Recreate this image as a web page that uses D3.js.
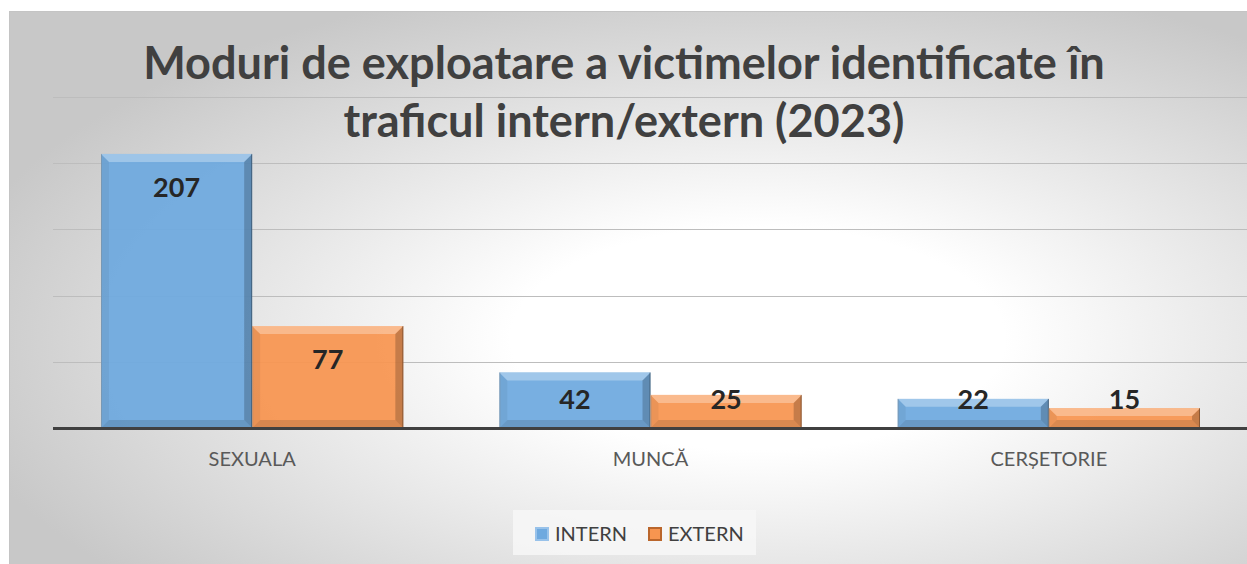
<!DOCTYPE html>
<html>
<head>
<meta charset="utf-8">
<script src="https://cdn.jsdelivr.net/npm/d3@7"></script>
<style>
  body { margin: 0; background: #fff; }
  svg { display: block; }
</style>
</head>
<body>
<svg id="chart" width="1247" height="564"></svg>
<script>
// chart values
var categories = ["SEXUALA", "MUNCĂ", "CERȘETORIE"];
var seriesNames = ["INTERN", "EXTERN"];
var intern = [207, 42, 22];
var extern = [77, 25, 15];
var yTicks = [0, 50, 100, 150, 200, 250];
var titleLines = ["Moduri de exploatare a victimelor identificate în", "traficul intern/extern (2023)"];

var colors = { INTERN: "#6ea9df", EXTERN: "#f79550" };

var svg = d3.select("#chart");
var W = 1247, H = 564;

// background gradient
var defs = svg.append("defs");
var bg = defs.append("radialGradient")
    .attr("id", "bg")
    .attr("cx", 0.6).attr("cy", 0.58).attr("r", 0.66)
    .attr("fx", 0.6).attr("fy", 0.58);
bg.append("stop").attr("offset", 0).attr("stop-color", "#ffffff");
bg.append("stop").attr("offset", 0.3).attr("stop-color", "#ffffff");
bg.append("stop").attr("offset", 1).attr("stop-color", "#c8c8c8");

svg.append("rect")
    .attr("x", 9.5).attr("y", 11.5)
    .attr("width", W).attr("height", H)
    .attr("fill", "url(#bg)")
    .attr("stroke", "#c4c4c4");

var x0 = d3.scaleBand()
    .domain(categories)
    .range([53, 1248])
    .paddingInner(0.241)
    .paddingOuter(0.1205);

var x1 = d3.scaleBand()
    .domain(seriesNames)
    .range([0, x0.bandwidth()]);

var y = d3.scaleLinear()
    .domain([0, 250])
    .range([428, 97]);

// gridlines
svg.append("g")
    .selectAll("line")
    .data(yTicks.slice(1))
    .join("line")
    .attr("x1", 53).attr("x2", 1248)
    .attr("y1", d => Math.round(y(d)) + 0.5)
    .attr("y2", d => Math.round(y(d)) + 0.5)
    .attr("stroke", "#bdbdbd")
    .attr("stroke-width", 1.2);

var rows = [];
categories.forEach((c, i) => {
    rows.push({ cat: c, s: "INTERN", v: intern[i] });
    rows.push({ cat: c, s: "EXTERN", v: extern[i] });
});

var bars = svg.append("g")
    .selectAll("g")
    .data(rows)
    .join("g");

bars.each(function (d) {
    var g = d3.select(this);
    var xa = x0(d.cat) + x1(d.s);
    var xb = xa + x1.bandwidth();
    var ya = y(d.v), yb = y(0);
    var b = Math.min(8, (yb - ya) / 2.5);
    var pts = p => p.map(q => q.join(",")).join(" ");

    g.append("rect")
        .attr("x", xa).attr("y", ya)
        .attr("width", xb - xa).attr("height", yb - ya)
        .attr("fill", colors[d.s])
        .attr("fill-opacity", 0.93);
    // bevel faces
    g.append("polygon")
        .attr("points", pts([[xa, ya], [xb, ya], [xb - b, ya + b], [xa + b, ya + b]]))
        .attr("fill", "#fff").attr("fill-opacity", 0.3);
    g.append("polygon")
        .attr("points", pts([[xa, ya], [xa + b, ya + b], [xa + b, yb - b], [xa, yb]]))
        .attr("fill", "#000").attr("fill-opacity", 0.05);
    g.append("polygon")
        .attr("points", pts([[xb, ya], [xb, yb], [xb - b, yb - b], [xb - b, ya + b]]))
        .attr("fill", "#000").attr("fill-opacity", 0.2);
    g.append("polygon")
        .attr("points", pts([[xa, yb], [xb, yb], [xb - b, yb - b], [xa + b, yb - b]]))
        .attr("fill", "#000").attr("fill-opacity", 0.12);
    g.append("line")
        .attr("x1", xb - 0.5).attr("x2", xb - 0.5)
        .attr("y1", ya).attr("y2", yb)
        .attr("stroke", "#000").attr("stroke-opacity", 0.3);
    g.append("line")
        .attr("x1", xa + 0.5).attr("x2", xa + 0.5)
        .attr("y1", ya).attr("y2", yb)
        .attr("stroke", "#888").attr("stroke-opacity", 0.4);
});

// baseline
svg.append("line")
    .attr("x1", 53).attr("x2", 1248)
    .attr("y1", y(0) + 0.5).attr("y2", y(0) + 0.5)
    .attr("stroke", "#404040")
    .attr("stroke-width", 3);

// value labels
svg.append("g")
    .selectAll("text")
    .data(rows)
    .join("text")
    .attr("x", d => x0(d.cat) + x1(d.s) + x1.bandwidth() / 2)
    .attr("y", d => Math.min(y(d.v) + 33, y(0) - 29))
    .attr("dy", "0.36em")
    .attr("text-anchor", "middle")
    .attr("font-family", "Lato, 'Open Sans', sans-serif")
    .attr("font-weight", 700)
    .attr("font-size", 27)
    .attr("fill", "#262626")
    .text(d => d.v);

// category axis
var xAxis = svg.append("g")
    .attr("transform", "translate(0," + y(0) + ")")
    .call(d3.axisBottom(x0).tickSize(0).tickPadding(24));
xAxis.select(".domain").remove();
xAxis.selectAll("text")
    .attr("font-family", "Lato, 'Open Sans', sans-serif")
    .attr("font-size", 20)
    .attr("fill", "#595959");

// title
var title = svg.append("g")
    .selectAll("text")
    .data(titleLines)
    .join("text")
    .attr("x", 624)
    .attr("y", (d, i) => 79 + i * 58)
    .attr("text-anchor", "middle")
    .attr("font-family", "Lato, 'Open Sans', sans-serif")
    .attr("font-weight", 700)
    .attr("font-size", 48)
    .attr("fill", "#404040")
    .text(d => d);
var w0 = title.node().getComputedTextLength();
title.attr("font-size", 48 * 962 / w0);

// legend
var legend = svg.append("g");
legend.append("rect")
    .attr("x", 513).attr("y", 510)
    .attr("width", 243).attr("height", 45)
    .attr("fill", "#f7f7f7").attr("fill-opacity", 0.85);
var legX = [535, 648];
var items = legend.selectAll("g")
    .data(seriesNames)
    .join("g")
    .attr("transform", (d, i) => "translate(" + legX[i] + ",527)");
items.append("rect")
    .attr("width", 14).attr("height", 14)
    .attr("fill", d => colors[d]);
items.append("rect")
    .attr("x", 1).attr("y", 1)
    .attr("width", 12).attr("height", 12)
    .attr("fill", "none")
    .attr("stroke", (d, i) => i ? "#a0521c" : "#a9cdee")
    .attr("stroke-width", 2)
    .attr("stroke-opacity", 0.7);
items.append("text")
    .attr("x", 20).attr("y", 14)
    .attr("font-family", "Lato, 'Open Sans', sans-serif")
    .attr("font-size", 20)
    .attr("fill", "#404040")
    .text(d => d);
</script>
</body>
</html>
